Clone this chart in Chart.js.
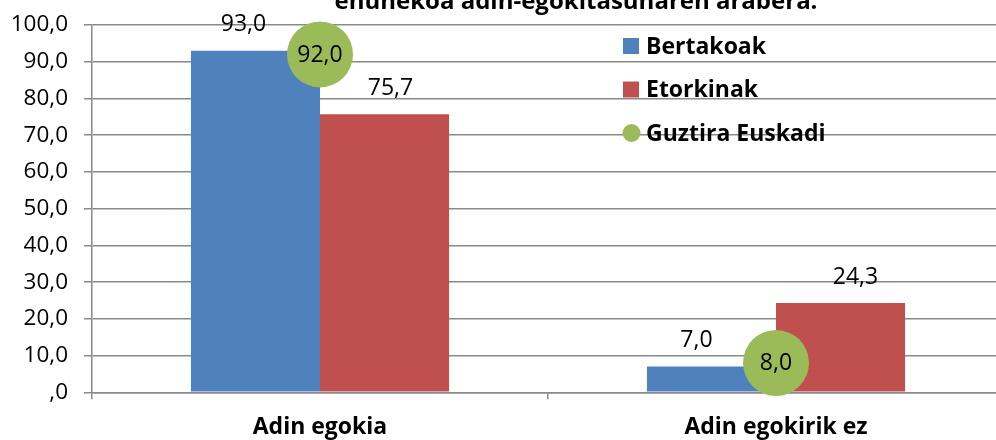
<!DOCTYPE html>
<html>
<head>
<meta charset="utf-8">
<script src="https://cdn.jsdelivr.net/npm/chart.js@4.4.1/dist/chart.umd.min.js"></script>
<style>
  html, body { margin: 0; padding: 0; background: #ffffff; overflow: hidden; width: 996px; height: 440px; }
  #wrap { position: absolute; left: 0; top: 0; width: 1006px; height: 440px; }
</style>
</head>
<body>
<div id="wrap"><canvas id="c" width="1006" height="440"></canvas></div>
<script>
// ---- data ----
const titleText = 'ehunekoa adin-egokitasunaren arabera.';
const categories = ['Adin egokia', 'Adin egokirik ez'];
const seriesNames = ['Bertakoak', 'Etorkinak', 'Guztira Euskadi'];
const bertakoak = [93.0, 7.0];
const etorkinak = [75.7, 24.3];
const guztiraEuskadi = [92.0, 8.0];
const yTickValues = [0, 10, 20, 30, 40, 50, 60, 70, 80, 90, 100];
const yTickLabels = [',0', '10,0', '20,0', '30,0', '40,0', '50,0', '60,0', '70,0', '80,0', '90,0', '100,0'];

// ---- style ----
const BLUE = '#4F81BD', RED = '#C0504D', GREEN = '#9BBB59', GRID = '#8a8a8a';
const FONT = 'Open Sans';
Chart.defaults.font.family = FONT;
Chart.defaults.color = '#000000';

function fmt(v) {
  const s = v.toFixed(1).replace('.', ',');
  return s.startsWith('0,') ? s.slice(1) : s;
}

// value labels above bars (nudged sideways as in the original) and inside points
const labelNudge = { 0: [-12, -15], 1: [6, 15] };
const valueLabels = {
  id: 'valueLabels',
  afterDatasetsDraw(chart) {
    const ctx = chart.ctx;
    ctx.save();
    ctx.fillStyle = '#000';
    ctx.font = '23px "' + FONT + '"';
    ctx.textAlign = 'center';
    chart.data.datasets.forEach((ds, di) => {
      const meta = chart.getDatasetMeta(di);
      meta.data.forEach((el, i) => {
        const v = ds.data[i];
        if (ds.type === 'line') {
          ctx.textBaseline = 'middle';
          ctx.fillText(fmt(v), el.x, el.y + 1);
        } else {
          ctx.textBaseline = 'alphabetic';
          const dx = (labelNudge[di] || [0, 0])[i];
          ctx.fillText(fmt(v), el.x + dx, el.y - 19.5);
        }
      });
    });
    ctx.restore();
  }
};

// legend inside the plot area and the (cut-off) title line
const innerLegend = {
  id: 'innerLegend',
  afterDraw(chart) {
    const ctx = chart.ctx;
    ctx.save();
    ctx.font = 'bold 23px "' + FONT + '"';
    ctx.textBaseline = 'middle';
    ctx.textAlign = 'left';
    const x0 = 623, y0 = 46, step = 43.5;
    chart.data.datasets.forEach((ds, di) => {
      const y = y0 + di * step;
      ctx.fillStyle = ds.backgroundColor;
      if (ds.type === 'line') {
        ctx.beginPath();
        ctx.arc(x0 + 8.5, y, 9, 0, Math.PI * 2);
        ctx.fill();
      } else {
        ctx.fillRect(x0, y - 8, 16, 16);
      }
      ctx.fillStyle = '#000';
      ctx.fillText(ds.label, x0 + 23, y + 1);
    });
    // title
    ctx.font = 'bold 24px "' + FONT + '"';
    ctx.textAlign = 'center';
    ctx.textBaseline = 'alphabetic';
    ctx.fillText(titleText, 576, 9);
    ctx.restore();
  }
};

new Chart(document.getElementById('c'), {
  data: {
    labels: categories,
    datasets: [
      { type: 'bar', label: seriesNames[0], data: bertakoak, backgroundColor: BLUE, order: 2,
        categoryPercentage: 0.566, barPercentage: 1.0, borderWidth: 0 },
      { type: 'bar', label: seriesNames[1], data: etorkinak, backgroundColor: RED, order: 2,
        categoryPercentage: 0.566, barPercentage: 1.0, borderWidth: 0 },
      { type: 'line', label: seriesNames[2], data: guztiraEuskadi, backgroundColor: GREEN,
        borderColor: GREEN, showLine: false, pointRadius: 33, pointHoverRadius: 33,
        pointBorderWidth: 0, order: 0, clip: false }
    ]
  },
  options: {
    responsive: false,
    animation: false,
    events: [],
    layout: { autoPadding: false, padding: { top: 25, right: 2, left: 0, bottom: 0 } },
    plugins: { legend: { display: false }, title: { display: false }, tooltip: { enabled: false } },
    scales: {
      x: {
        offset: true,
        grid: { drawOnChartArea: false, drawTicks: true, tickLength: 7, color: GRID, lineWidth: 1.5, offset: true },
        border: { display: true, color: GRID, width: 1.5 },
        ticks: { font: { family: FONT, size: 23, weight: 'bold' }, color: '#000', padding: 14, maxRotation: 0 },
        afterFit(s) { s.height = 47.7; s.paddingLeft = 0; s.paddingRight = 0; s.paddingTop = 0; s.paddingBottom = 0; }
      },
      y: {
        min: 0, max: 100,
        afterBuildTicks(s) { s.ticks = yTickValues.map(v => ({ value: v })); },
        grid: { color: GRID, lineWidth: 1.5, drawTicks: true, tickLength: 8 },
        border: { display: true, color: GRID, width: 1.5 },
        ticks: {
          font: { family: FONT, size: 22.5 }, color: '#000', padding: 16,
          callback(v) { const i = yTickValues.indexOf(v); return i >= 0 ? yTickLabels[i] : ''; }
        },
        afterFit(s) { s.width = 92; s.paddingLeft = 0; s.paddingRight = 0; s.paddingTop = 0; s.paddingBottom = 0; }
      }
    }
  },
  plugins: [valueLabels, innerLegend]
});
</script>
</body>
</html>
